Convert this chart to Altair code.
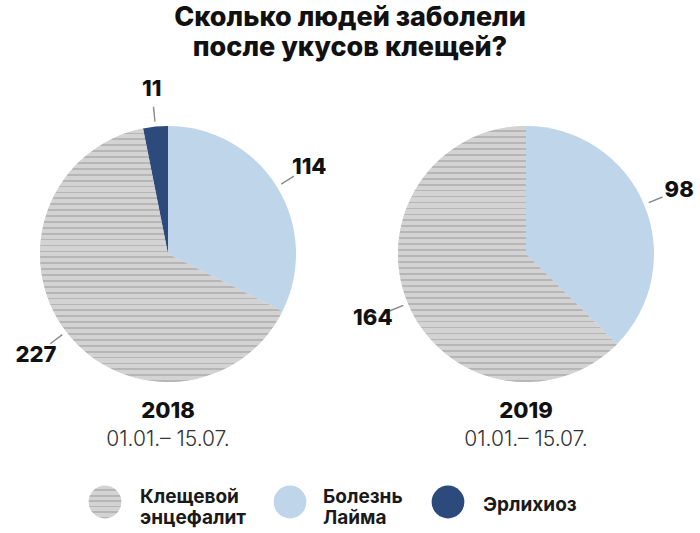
import math
import altair as alt
import pandas as pd

# ---------------- data ----------------
years = ["2018", "2019"]
periods = ["01.01.– 15.07.", "01.01.– 15.07."]
# slice order, clockwise from 12 o'clock
categories = ["Болезнь Лайма", "Клещевой энцефалит", "Эрлихиоз"]
lyme = [114, 98]
encephalitis = [227, 164]
ehrlichiosis = [11, 0]
legend_order = ["Клещевой энцефалит", "Болезнь Лайма", "Эрлихиоз"]
legend_lines = [["Клещевой", "энцефалит"], ["Болезнь", "Лайма"], ["Эрлихиоз"]]

# ---------------- styling ----------------
BLUE = "#bed5ea"
GREY = "#d3d3d3"
GREY_DARK = "#b6b6b6"
NAVY = "#2c4a7b"
FONT = "Inter"
TEXT = "#111111"


def stripes(n, dark_frac=0.3):
    stops = []
    for i in range(n):
        a = i / n
        b = (i + 1 - dark_frac) / n
        c = (i + 1) / n
        stops += [
            alt.GradientStop(offset=a, color=GREY),
            alt.GradientStop(offset=b, color=GREY),
            alt.GradientStop(offset=b, color=GREY_DARK),
            alt.GradientStop(offset=c, color=GREY_DARK),
        ]
    return alt.LinearGradient(gradient="linear", x1=0, y1=0, x2=0, y2=1, stops=stops)


rows = []
series = [lyme, encephalitis, ehrlichiosis]
for i, yr in enumerate(years):
    for k, cat in enumerate(categories):
        v = series[k][i]
        if v > 0:
            rows.append({"year": yr, "cat": cat, "order": k, "value": v})
df = pd.DataFrame(rows)
years_df = pd.DataFrame({"year": years, "period": periods})

base = (
    alt.Chart(df)
    .transform_joinaggregate(total="sum(value)", groupby=["year"])
    .transform_window(cum="sum(value)", groupby=["year"],
                      sort=[alt.SortField("order")], frame=[None, 0])
    .transform_calculate(
        start="(datum.cum - datum.value) / datum.total",
        end="datum.cum / datum.total",
        mid="(datum.cum - datum.value / 2) / datum.total",
    )
)

X = alt.X("year:N", scale=alt.Scale(type="point", domain=years, range=[168, 526], padding=0), axis=None)
PIE_Y = alt.value(254)
theta_scale = alt.Scale(domain=[0, 1], range=[0, 2 * math.pi])
R = 128

arcs = base.mark_arc(outerRadius=R).encode(
    x=X, y=PIE_Y,
    theta=alt.Theta("start:Q", scale=theta_scale),
    theta2="end:Q",
    color=alt.Color("cat:N", scale=alt.Scale(domain=categories, range=[BLUE, GREY, NAVY]), legend=None),
)

striped = base.transform_filter(alt.datum.cat == "Клещевой энцефалит").mark_arc(
    outerRadius=R, fill=stripes(43)
).encode(
    x=X, y=PIE_Y,
    theta=alt.Theta("start:Q", scale=theta_scale),
    theta2="end:Q",
)

leaders = base.transform_calculate(
    l0="datum.mid - 0.0008", l1="datum.mid + 0.0008"
).mark_arc(innerRadius=133, outerRadius=148, color="#8a8a8a").encode(
    x=X, y=PIE_Y,
    theta=alt.Theta("l0:Q", scale=theta_scale),
    theta2="l1:Q",
)

labels = base.mark_text(radius=166, font=FONT, fontSize=22, fontWeight=800, color=TEXT).encode(
    x=X, y=PIE_Y,
    theta=alt.Theta("mid:Q", scale=theta_scale),
    text="value:Q",
)

year_text = alt.Chart(years_df).mark_text(font=FONT, fontSize=22, fontWeight=800, color=TEXT).encode(
    x=X, y=alt.value(411), text="year:N"
)
period_text = alt.Chart(years_df).mark_text(font=FONT, fontSize=21, fontWeight=300, color="#333333").encode(
    x=X, y=alt.value(440), text="period:N"
)

# ---------------- legend ----------------
legend_sym_x = [105, 290, 448]
legend_txt_x = [140, 323, 483]
fills = [stripes(6), BLUE, NAVY]
legend_layers = []
for j, cat in enumerate(legend_order):
    legend_layers.append(
        alt.Chart(pd.DataFrame({"cat": [cat]})).mark_point(
            shape="circle", filled=True, fill=fills[j], size=1075, opacity=1, strokeWidth=0
        ).encode(x=alt.value(legend_sym_x[j]), y=alt.value(502))
    )
    legend_layers.append(
        alt.Chart(pd.DataFrame({"cat": [cat]})).mark_text(
            font=FONT, fontSize=19, fontWeight=700, color="#1a1a1a", align="left",
            baseline="middle", lineHeight=21
        ).encode(x=alt.value(legend_txt_x[j]), y=alt.value(497 if len(legend_lines[j]) > 1 else 505),
                 text=alt.value(legend_lines[j]))
    )

chart = alt.layer(arcs, striped, leaders, labels, year_text, period_text, *legend_layers).properties(
    width=700, height=533,
    autosize=alt.AutoSizeParams(type="none"),
    padding=0,
    title=alt.TitleParams(
        text=["Сколько людей заболели", "после укусов клещей?"],
        font=FONT, fontSize=27, fontWeight=800, color=TEXT,
        lineHeight=30, anchor="middle", offset=-62,
    ),
).configure_view(stroke=None)

chart.save("out.html", embed_options={"renderer": "svg", "actions": False})
